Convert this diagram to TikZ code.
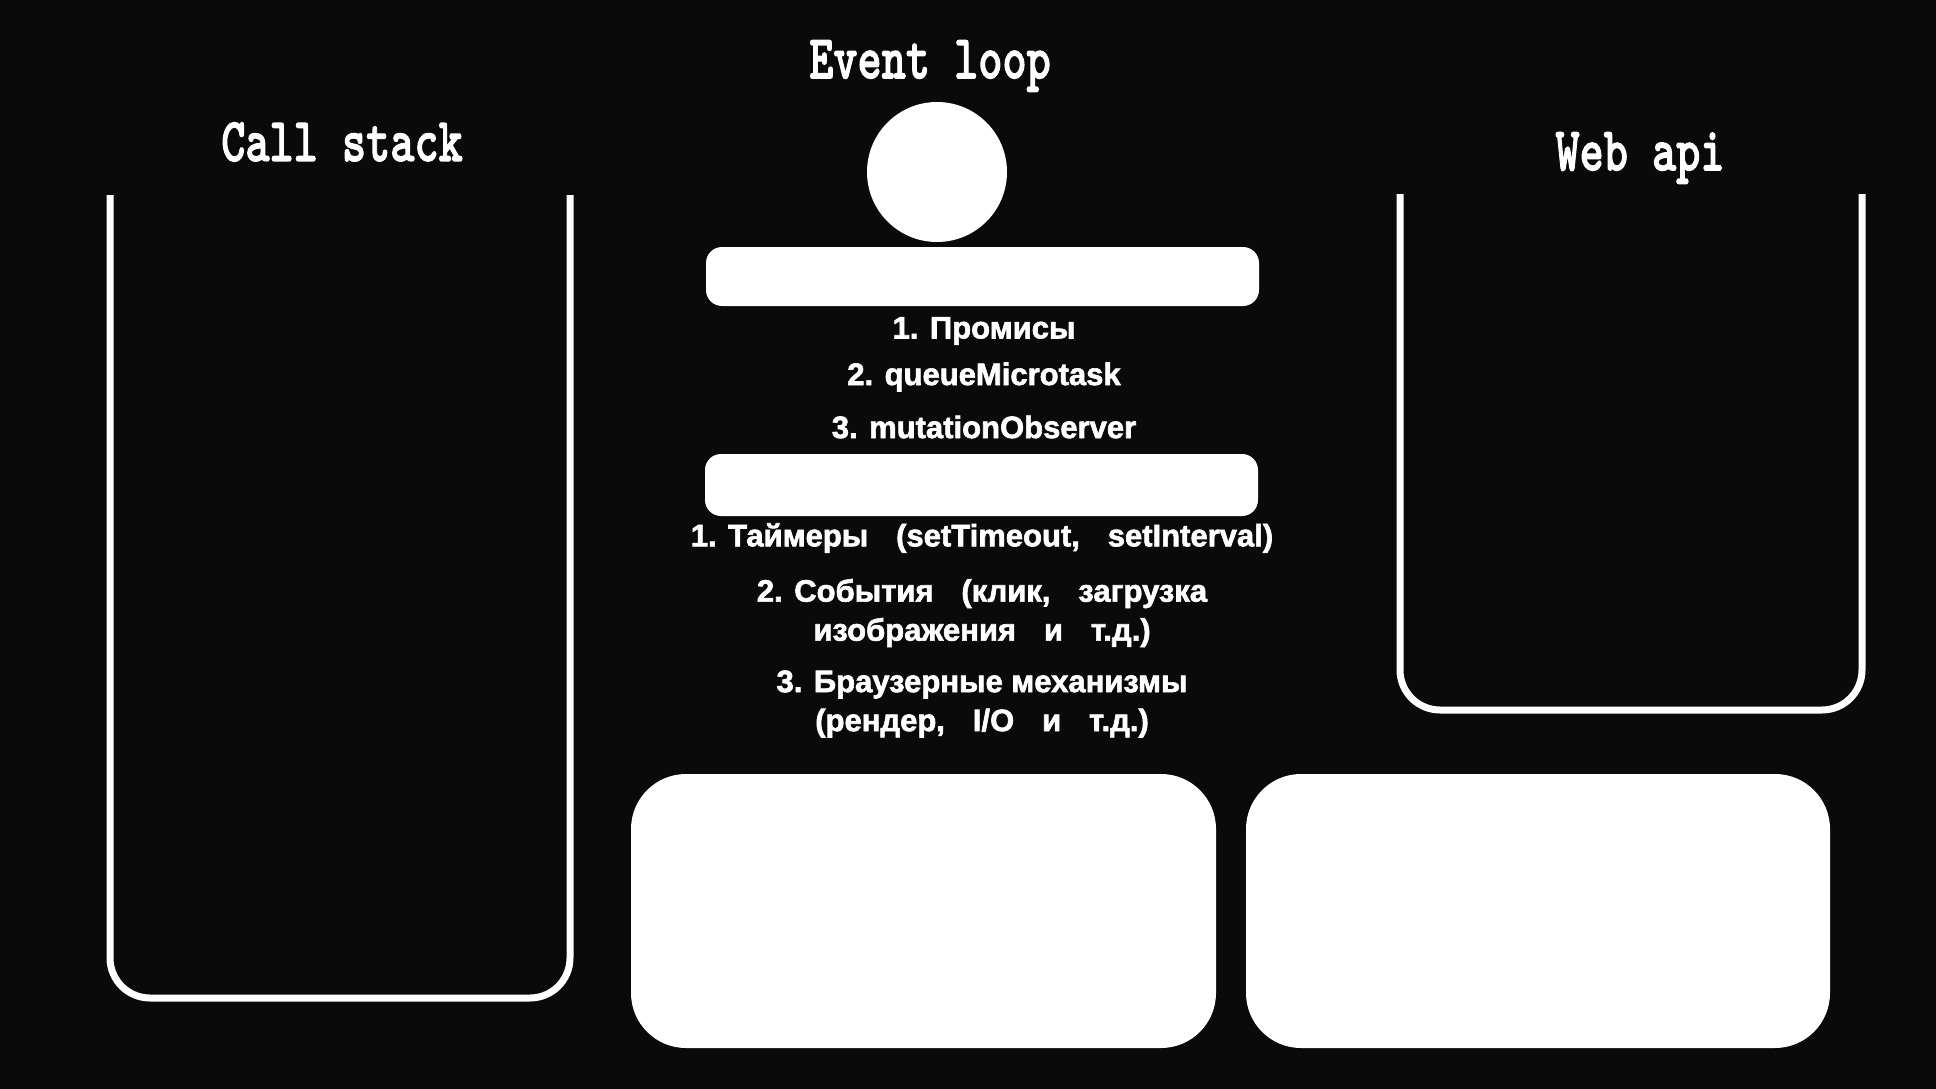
\documentclass[tikz,border=0pt]{standalone}
\usepackage{fontspec}
\setmainfont{Liberation Sans}
\newfontfamily\titlefont[FakeBold=2]{lmmonolt10-bold.otf}
\usepackage{graphicx}
\definecolor{bg}{HTML}{0A0A0A}
\newcommand\wgap{\hspace{0.9em}}
\begin{document}
\begin{tikzpicture}[x=1pt,y=-1pt,
  titletext/.style={text=white,font=\titlefont\fontsize{46}{46}\selectfont,inner sep=0pt},
  itemtext/.style={text=white,font=\addfontfeature{FakeBold=2}\bfseries\fontsize{31}{39}\selectfont,inner sep=0pt,align=center},
  container/.style={draw=white,line width=7pt,rounded corners=40pt},
  bar/.style={fill=white,rounded corners=16pt},
  bigbox/.style={fill=white,rounded corners=55pt}]
\fill[bg] (0,0) rectangle (1936,1089);
\useasboundingbox (0,0) rectangle (1936,1089);
% titles
\node[titletext] (evtitle) at (930,66) {\scalebox{1}[1.35]{Event loop}};
\node[titletext] (cstitle) at (342,142) {\scalebox{1}[1.35]{Call stack}};
\node[titletext] (watitle) at (1640,158) {\scalebox{1}[1.35]{Web api}};
% containers
\draw[container] (110,195) -- (110,998) -- (570,998) -- (570,195);
\draw[container] (1400,194) -- (1400,710) -- (1862,710) -- (1862,194);
% loop icon
\node[circle,fill=white,minimum size=140pt,inner sep=0pt] (loop) at (937,172) {};
% bars
\path[bar] (706,247) rectangle (1259,306);
\node (microbar) at (982,276) {};
\path[bar] (705,454) rectangle (1258,516);
\node (macrobar) at (982,485) {};
% micro items
\node[itemtext] (m1) at (984,331) {1. Промисы};
\node[itemtext] (m2) at (984,377) {2. queueMicrotask};
\node[itemtext] (m3) at (984,427) {3. mutationObserver};
% macro items
\node[itemtext] (t1) at (982,538) {1. Таймеры\wgap(setTimeout,\wgap setInterval)};
\node[itemtext] (t2) at (982,613) {2. События\wgap(клик,\wgap загрузка\\изображения\wgap и\wgap т.д.)};
\node[itemtext] (t3) at (982,704) {3. Браузерные механизмы\\(рендер,\wgap I/O\wgap и\wgap т.д.)};
% bottom boxes
\path[bigbox] (631,774) rectangle (1216,1048);
\path[bigbox] (1246,774) rectangle (1830,1048);
\end{tikzpicture}
\end{document}
